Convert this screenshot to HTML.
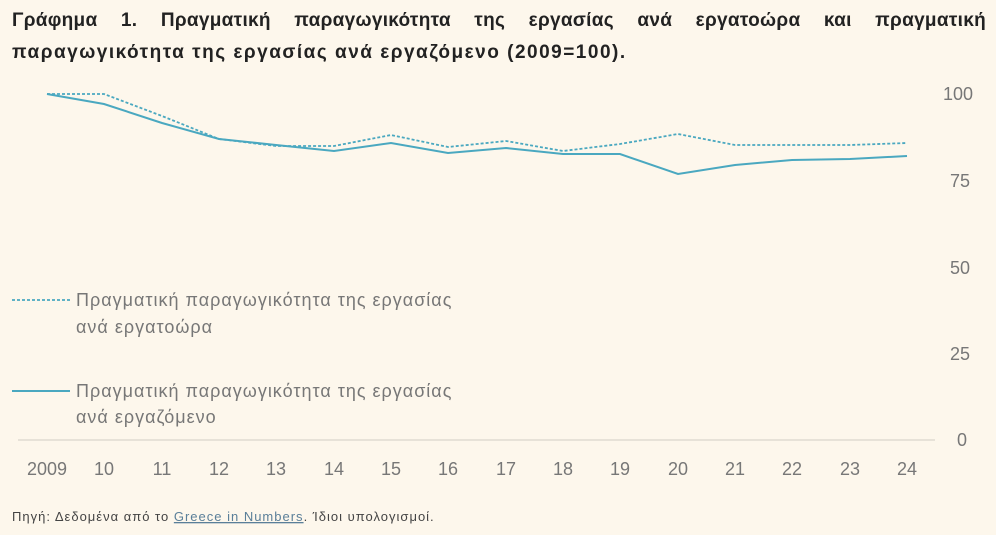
<!DOCTYPE html>
<html><head><meta charset="utf-8"><style>
body{margin:0;background:#fdf7ec;}
.t{position:absolute;left:12px;width:974px;font:bold 19px "Liberation Sans","DejaVu Sans",sans-serif;color:#222;text-align:justify;text-align-last:justify;letter-spacing:0.3px}
</style></head><body>
<div style="position:relative;width:996px;height:535px;overflow:hidden;background:#fdf7ec">
<div class="t" style="top:10px">Γράφημα 1. Πραγματική παραγωγικότητα της εργασίας ανά εργατοώρα και πραγματική</div>
<div class="t" style="top:42px;width:auto;text-align-last:auto;letter-spacing:1.5px">παραγωγικότητα της εργασίας ανά εργαζόμενο (2009=100).</div>
<svg width="996" height="535" style="position:absolute;left:0;top:0" font-family="Liberation Sans, DejaVu Sans, sans-serif">
<line x1="18" y1="440" x2="935" y2="440" stroke="#e0dbd2" stroke-width="1.5"/>
<g fill="#777" font-size="18" text-anchor="middle">
<text x="958" y="100">100</text><text x="960" y="187">75</text><text x="960" y="274">50</text><text x="960" y="360">25</text><text x="962" y="446">0</text>
<text x="47" y="475">2009</text><text x="104" y="475">10</text><text x="162" y="475">11</text><text x="219" y="475">12</text><text x="276" y="475">13</text><text x="334" y="475">14</text><text x="391" y="475">15</text><text x="448" y="475">16</text><text x="506" y="475">17</text><text x="563" y="475">18</text><text x="620" y="475">19</text><text x="678" y="475">20</text><text x="735" y="475">21</text><text x="792" y="475">22</text><text x="850" y="475">23</text><text x="907" y="475">24</text>
</g>
<polyline fill="none" stroke="#4aa8c0" stroke-width="1.8" stroke-dasharray="3,2" points="47,94 104,94 162,116 219,139 276,146 334,146 391,135 448,147 506,141 563,151 620,144 678,134 735,145 792,145 850,145 907,143"/>
<polyline fill="none" stroke="#4aa8c0" stroke-width="2" points="47,94 104,104 162,123 219,139 276,145 334,151 391,143 448,153 506,148 563,154 620,154 678,174 735,165 792,160 850,159 907,156"/>
<line x1="12" y1="300" x2="70" y2="300" stroke="#4aa8c0" stroke-width="1.8" stroke-dasharray="3,2"/>
<line x1="12" y1="391" x2="70" y2="391" stroke="#4aa8c0" stroke-width="2"/>
<g fill="#777" font-size="18" letter-spacing="1">
<text x="76" y="306">Πραγματική παραγωγικότητα της εργασίας</text>
<text x="76" y="333">ανά εργατοώρα</text>
<text x="76" y="397">Πραγματική παραγωγικότητα της εργασίας</text>
<text x="76" y="423">ανά εργαζόμενο</text>
</g>
<text x="12" y="521" font-size="13" fill="#444" letter-spacing="1">Πηγή: Δεδομένα από το <tspan fill="#5a7f99" text-decoration="underline">Greece in Numbers</tspan>. Ίδιοι υπολογισμοί.</text>
</svg>
</div>
</body></html>
